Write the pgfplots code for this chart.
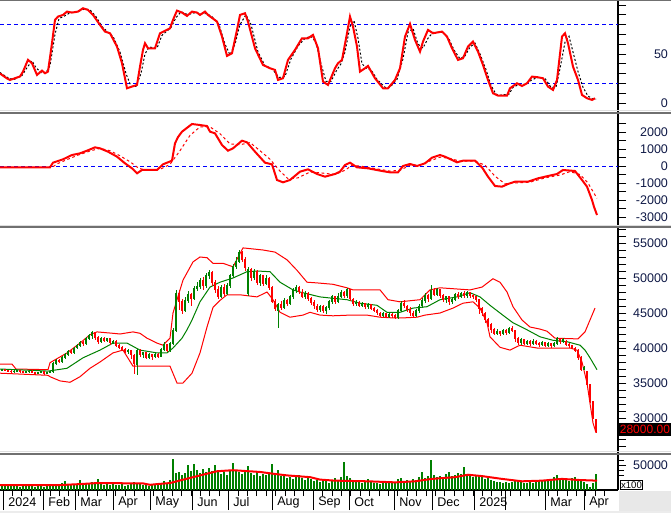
\documentclass[border=0pt]{standalone}
\usepackage{pgfplots}
\pgfplotsset{compat=1.18}
\usepackage{pgfplotstable}
\usepackage{fontspec}
\setmainfont{Liberation Sans}

\definecolor{cred}{RGB}{255,0,0}
\definecolor{cgreen}{RGB}{0,128,0}
\definecolor{cblue}{RGB}{0,0,255}
\definecolor{lab}{RGB}{15,25,70}
\definecolor{sep}{RGB}{112,112,112}
\definecolor{sepl}{RGB}{222,222,222}

% candles: x (pixel column), open, high, low, close
\pgfplotstableread{
x o h l c
2 36800 37000 36700 36900
14 36600 36800 36500 36700
17 36700 36900 36600 36800
26 36500 36700 36400 36600
29 36600 36800 36500 36700
38 36400 36600 36300 36500
41 36500 36700 36400 36600
47 36400 36600 36300 36500
50 36500 36700 36400 36600
53 36600 38000 36500 37800
56 37800 38400 37600 38200
62 38000 38800 37900 38600
65 38600 39300 38400 39100
68 39100 39700 38900 39500
74 39300 40200 39200 40000
77 40000 40600 39800 40400
80 40400 41000 40200 40800
86 40600 41600 40500 41400
89 41400 42000 41200 41800
92 41800 42500 41300 42200
101 40900 41600 40700 41400
107 41000 41500 40800 41300
113 40800 41200 40600 41000
128 39500 39800 39200 39600
137 37600 39800 36200 39600
143 39000 39500 38600 39300
149 38700 39300 38500 39100
155 38800 39300 38600 39100
161 38800 40000 38700 39800
164 39800 40800 39600 40500
170 39700 40800 39500 40600
173 40600 42800 40400 42500
176 42500 48300 42300 47800
185 45400 47300 45200 46800
188 46800 48200 46400 47600
194 47000 48800 46800 48500
197 48500 49500 48200 48800
200 48800 50000 48400 49700
206 48900 50700 48600 50300
209 50300 51200 49900 50800
221 47400 49000 47200 48600
227 47800 49300 47600 48900
230 48900 50600 48600 50300
233 50300 52000 50000 51600
236 51600 53000 51300 52400
239 52400 54000 52200 53600
248 47800 51600 47400 51200
254 50000 51300 49700 50900
260 49300 50600 48900 50300
266 49200 50500 49000 50000
278 45400 46500 42900 46200
284 45800 47100 45600 46800
290 46400 47600 46200 47300
293 47300 48600 47000 48200
296 48200 49000 47900 48700
305 47400 48100 47000 47800
320 45500 46200 45100 45900
326 45300 46000 44900 45800
329 45800 46900 45500 46600
332 46600 47600 46300 47300
338 46600 47800 46400 47400
341 47400 48300 47100 47900
347 47500 48600 47200 48300
356 46300 46900 46000 46500
362 46100 46600 45900 46400
368 45900 46400 45600 46200
383 44700 45200 44500 44900
389 44500 45100 44300 44800
398 44400 45600 44200 45400
401 45400 46700 45200 46300
416 44700 45600 44400 45300
419 45300 46300 45000 46000
422 46000 47100 45700 46800
425 46800 47800 46500 47500
431 47000 49000 46800 48200
437 47700 48600 47400 48300
446 46900 47500 46500 47300
452 46600 47200 46300 46900
455 46900 47900 46700 47600
461 47300 48000 47100 47800
467 47500 48100 47200 47900
497 42100 42700 41900 42400
503 42000 42700 41800 42500
509 42200 43000 42000 42800
521 40800 41400 40500 41200
527 40700 41100 40500 40900
533 40600 41300 40400 41000
542 40500 41000 40300 40800
548 40400 40800 40100 40600
554 40300 40900 40100 40700
557 40700 41600 40500 41300
563 40900 41400 40700 41200
584 36900 37400 36800 37200
}\upc

\pgfplotstableread{
x o h l c
5 36900 37000 36700 36800
8 36800 36900 36600 36700
11 36700 36800 36500 36600
20 36800 36900 36500 36600
23 36600 36700 36400 36500
32 36700 36800 36400 36500
35 36500 36600 36200 36400
44 36600 36700 36200 36400
59 38200 38400 37800 38000
71 39500 39700 39100 39300
83 40800 41000 40300 40600
95 42200 42300 41200 41500
98 41500 41700 40600 40900
104 41400 41600 40800 41000
110 41300 41400 40500 40800
116 41000 41100 40200 40400
119 40400 40600 39900 40100
122 40100 40300 39600 39800
125 39800 40000 39300 39500
131 39600 39700 38500 39000
134 39000 39100 36300 37800
140 39600 39800 38700 39000
146 39300 39400 38400 38700
152 39100 39200 38300 38800
158 39100 39300 38600 38800
167 40500 40600 39500 39700
179 47800 48300 45500 46600
182 46600 47000 44800 45400
191 47600 47900 46000 47000
203 49700 50200 48300 48900
212 50800 51000 48800 49300
215 49300 49700 47900 48300
218 48300 48800 47000 47400
224 48600 49100 47500 47800
242 53600 53800 52300 52700
245 52700 53000 51000 51500
251 51200 51500 49600 50000
257 50900 51100 49000 49300
263 50300 50500 48800 49200
269 50000 50200 48300 48600
272 48600 48800 46400 46700
275 46700 47000 45300 45600
281 46200 46700 45400 45800
287 46800 47000 46000 46400
299 48700 48900 47700 48000
302 48000 48400 47100 47400
308 47800 48000 46700 47100
311 47100 47300 46200 46500
314 46500 46800 45600 46000
317 46000 46300 45200 45500
323 45900 46100 45000 45300
335 47300 47500 46300 46600
344 47900 48200 47100 47500
350 48300 48400 46700 47000
353 47000 47200 46000 46300
359 46500 46700 45800 46100
365 46400 46500 45600 45900
371 46200 46300 45400 45700
374 45700 45900 45100 45400
377 45400 45600 44700 45000
380 45000 45200 44400 44700
386 44900 45000 44300 44500
392 44800 45000 44300 44600
395 44600 44800 44100 44400
404 46300 46900 45700 46000
407 46000 46200 45200 45500
410 45500 45800 44600 45000
413 45000 45300 44400 44700
428 47500 47700 46600 47000
434 48200 48600 47400 47700
440 48300 48500 47200 47500
443 47500 47700 46600 46900
449 47300 47500 46200 46600
458 47600 48000 47000 47300
464 47800 48100 47200 47500
470 47900 48000 47100 47500
473 47500 47700 47000 47300
476 47300 47500 46600 46900
479 46900 47000 44800 45600
482 45600 45800 44600 45000
485 45000 45200 43600 44100
488 44100 44300 43000 43400
491 43400 43600 42200 42600
494 42600 42800 41800 42100
500 42400 42500 41700 42000
506 42500 42700 41900 42200
512 42800 43100 42300 42500
515 42500 42600 40800 41300
518 41300 41600 40500 40800
524 41200 41300 40400 40700
530 40900 41100 40300 40600
536 41000 41100 40400 40700
539 40700 40900 40200 40500
545 40800 40900 40100 40400
551 40600 40700 40000 40300
560 41300 41500 40600 40900
566 40900 41200 40300 40500
569 40500 40700 40000 40300
572 40300 40500 39800 40000
575 40000 40200 39500 39700
578 39700 39900 38300 38700
581 38700 38800 36700 36900
587 36600 36700 34600 34800
590 34800 34900 32200 32300
593 32300 32400 29900 30000
596 29800 29900 27900 28000
}\dnc

% volume (x100 shares)
\pgfplotstableread{
x v
2 9000
5 11000
8 8000
11 10000
14 12000
17 9000
20 7000
23 10000
26 8000
29 11000
32 9000
35 6000
38 8000
41 10000
44 7000
47 9000
50 8000
53 12000
56 10000
59 9000
62 15000
65 18000
68 11000
71 10000
74 13000
77 12000
80 20000
83 14000
86 12000
89 15000
92 17000
95 14000
98 22000
101 12000
104 11000
107 13000
110 10000
113 12000
116 11000
119 10000
122 12000
125 9000
128 10000
131 13000
134 16000
137 14000
140 12000
143 10000
146 11000
149 9000
152 10000
155 12000
158 11000
161 14000
164 18000
167 13000
170 20000
173 62000
176 35000
179 36000
182 30000
185 34000
188 50000
191 38000
194 52000
197 40000
200 34000
203 42000
206 36000
209 45000
212 38000
215 50000
218 40000
221 33000
224 36000
227 30000
230 38000
233 55000
236 40000
239 36000
242 32000
245 38000
248 48000
251 34000
254 30000
257 36000
260 28000
263 32000
266 30000
269 34000
272 53000
275 34000
278 40000
281 28000
284 30000
287 24000
290 26000
293 22000
296 28000
299 30000
302 24000
305 20000
308 26000
311 22000
314 18000
317 20000
320 16000
323 18000
326 22000
329 15000
332 18000
335 24000
338 20000
341 26000
344 56000
347 28000
350 24000
353 20000
356 18000
359 16000
362 15000
365 18000
368 22000
371 16000
374 14000
377 15000
380 13000
383 16000
386 14000
389 15000
392 17000
395 16000
398 22000
401 24000
404 18000
407 20000
410 17000
413 22000
416 20000
419 26000
422 37000
425 24000
428 28000
431 61000
434 30000
437 26000
440 28000
443 24000
446 32000
449 36000
452 28000
455 30000
458 34000
461 32000
464 47000
467 30000
470 28000
473 26000
476 28000
479 30000
482 26000
485 22000
488 24000
491 20000
494 18000
497 16000
500 17000
503 15000
506 16000
509 14000
512 17000
515 20000
518 18000
521 16000
524 15000
527 14000
530 17000
533 15000
536 16000
539 18000
542 20000
545 18000
548 20000
551 22000
554 26000
557 30000
560 24000
563 22000
566 20000
569 18000
572 24000
575 26000
578 20000
581 22000
584 17000
587 12000
590 6000
593 14000
596 32000
}\vol

\pgfplotsset{
  panel/.style={
    scale only axis, width=463.5pt, xmin=0, xmax=618,
    axis y line*=right,
    y axis line style={black, line width=1pt},
    tick align=outside, major tick length=6pt, minor tick length=6pt,
    ytick style={black, line width=0.6pt},
    minor tick style={black, line width=0.6pt},
    scaled y ticks=false,
    yticklabel style={anchor=east, xshift=35pt, text=lab,
      font=\fontsize{9.4}{11}\selectfont},
    /pgf/number format/assume math mode=true,
    /pgf/number format/1000 sep={},
    clip mode=individual,
  },
  candle/.style={draw=none, mark=none, forget plot,
    error bars/.cd, y dir=both, y explicit, error mark=none,
    error bar style={draw=#1, solid, line width=0.75pt}},
  body/.style={draw=none, mark=none, forget plot,
    error bars/.cd, y dir=both, y explicit, error mark=none,
    error bar style={draw=#1, solid, line width=1.6pt}},
}

\begin{document}
\begin{tikzpicture}
\useasboundingbox (0,0) rectangle (503.25pt,-384.75pt);

% ---- stochastic ----
\begin{axis}[panel, axis x line=none, at={(0pt,-0.75pt)}, anchor=north west, height=83.25pt,
  ymin=-9.2, ymax=104, ytick={0,50}, minor ytick={10,20,30,40,60,70,80,90,100}]
\addplot[cblue, line width=0.75pt, dash pattern=on 3pt off 2.25pt] coordinates {(0,80) (618,80)};
\addplot[cblue, line width=0.75pt, dash pattern=on 3pt off 2.25pt] coordinates {(0,20) (618,20)};
\addplot[black, line width=0.75pt, dash pattern=on 1.5pt off 1.5pt] coordinates {
(0,31)(9,25)(14,24)(22,28)(27,36)(32,43)(36,36)(41,31)(46,31)(50,38)(55,70)(59,86)(65,89)(70,92)(77,93)(85,96)(90,95)(96,88)(102,78)(108,72)(113,68)(120,52)(126,30)(131,17)(136,17)(141,30)(145,50)(149,57)(157,56)(162,69)(171,77)(176,87)(181,93)(188,90)(194,92)(201,91)(207,91)(212,88)(219,80)(225,60)(230,49)(235,60)(240,80)(246,90)(251,80)(258,52)(265,38)(272,35)(279,26)(285,27)(291,45)(298,58)(305,66)(311,68)(316,62)(321,40)(326,22)(331,22)(337,34)(341,40)(345,52)(350,78)(354,84)(358,66)(362,40)(367,35)(371,34)(377,24)(385,16)(390,16)(397,24)(403,45)(408,72)(413,76)(418,60)(423,56)(428,66)(433,72)(443,72)(449,65)(454,54)(460,45)(465,48)(470,57)(475,61)(480,50)(486,34)(491,18)(496,9)(500,8)(509,9)(513,16)(519,19)(525,19)(531,23)(537,26)(545,25)(551,16)(556,16)(560,35)(565,62)(569,68)(573,52)(578,32)(583,16)(588,7)(593,4)(596,4)};
\addplot[cred, line width=1.5pt] coordinates {
(0,30)(7,25)(10,23.5)(20,27)(23,32)(28,44)(32,40.5)(37,28.6)(42,33)(45,30.3)(48,32)(52,61)(55,84.7)(58,88.1)(63,89.8)(67,93.2)(72,92.2)(78,93.2)(83,96.6)(88,94.9)(93,89.8)(100,79.6)(105,72.8)(110,71.1)(117,57.5)(122,40.5)(127,15)(132,16.7)(137,18.4)(140,37.1)(143,54.1)(145,60.9)(148,55.8)(155,55.8)(160,71.1)(170,76.2)(173,84.7)(177,94.2)(182,92.2)(187,88.8)(192,93.2)(197,92.2)(200,89.8)(205,93.2)(208,89.8)(217,83)(222,67.7)(227,48)(232,50.7)(237,74.5)(240,89.8)(245,91.5)(248,83)(255,55.8)(263,38.8)(270,35.4)(275,33.7)(278,23.5)(283,25.2)(288,43.9)(295,54.1)(302,66)(308,66)(313,69.4)(318,55.8)(323,21.8)(328,18.4)(335,35.4)(338,40.5)(342,43.9)(347,71.1)(350,88.1)(353,78)(357,57.5)(360,32)(365,35.4)(368,37.8)(375,25.2)(383,15)(388,15)(395,23.5)(400,35.4)(405,67.7)(410,80.6)(415,64.3)(420,52.4)(423,62.6)(428,74.5)(433,71.1)(442,72.8)(447,67.7)(452,55.8)(458,43.9)(463,45.6)(468,57.5)(473,62.6)(478,52.4)(483,38.8)(488,23.5)(493,9.9)(498,7.5)(507,7.5)(510,15)(517,20.1)(522,17.3)(527,20.1)(532,26.9)(538,26.2)(543,25.2)(548,16.7)(553,13.3)(557,23.5)(562,67.7)(565,71.1)(568,60.9)(573,37.1)(578,23.5)(582,8.2)(587,4.8)(592,3.1)(595,4.8)};
\end{axis}

% ---- MACD ----
\begin{axis}[panel, axis x line=none, at={(0pt,-84.75pt)}, anchor=north west, height=85.5pt,
  ymin=-3588, ymax=3118, ytick={-3000,-2000,...,2000}, minor ytick={-3500,-2500,...,2500}]
\addplot[cblue, line width=0.75pt, dash pattern=on 3pt off 2.25pt] coordinates {(0,0) (618,0)};
\addplot[cred, line width=0.75pt, dash pattern=on 2pt off 2pt] coordinates {
(0,-78)(52,-78)(58,150)(68,400)(78,640)(90,880)(100,1040)(110,900)(120,600)(130,250)(138,-100)(145,-250)(160,-200)(170,100)(180,900)(190,1800)(200,2300)(210,2300)(220,1900)(230,1300)(240,1250)(250,1380)(260,900)(270,400)(280,-300)(288,-750)(298,-700)(310,-350)(320,-400)(335,-500)(345,-250)(352,40)(360,0)(375,-150)(390,-300)(400,-250)(410,50)(420,50)(430,300)(440,520)(450,450)(460,280)(475,280)(485,50)(495,-600)(505,-1050)(515,-1000)(530,-950)(545,-700)(560,-530)(570,-330)(580,-500)(588,-1000)(594,-1600)(597,-1900)};
\addplot[cred, line width=1.5pt] coordinates {
(0,-78)(50,-78)(53,196)(63,392)(72,647)(80,745)(87,902)(95,1098)(100,1039)(108,843)(117,549)(125,157)(132,-137)(137,-431)(142,-235)(157,-235)(163,98)(172,314)(175,1333)(178,1700)(182,2019)(192,2470)(200,2411)(207,2352)(210,2019)(215,1921)(222,1235)(228,902)(233,1039)(242,1490)(247,1392)(255,843)(265,196)(272,98)(277,-823)(283,-960)(290,-823)(300,-333)(308,-196)(317,-470)(325,-627)(335,-470)(340,-333)(345,59)(350,196)(357,-78)(368,-137)(382,-294)(390,-372)(398,-372)(403,0)(410,118)(417,0)(425,157)(432,490)(440,647)(445,549)(457,216)(463,314)(475,314)(482,-78)(488,-627)(495,-1176)(502,-1215)(508,-1058)(515,-921)(528,-921)(538,-725)(548,-588)(557,-470)(563,-235)(575,-294)(582,-823)(587,-1215)(592,-2000)(594,-2400)(597,-2882)};
\end{axis}

% ---- price ----
\begin{axis}[panel, axis x line=none, at={(0pt,-171pt)}, anchor=north west, height=168.75pt,
  ymin=25000, ymax=57143, ytick={30000,35000,...,55000}, minor ytick={26000,27000,...,57000}]
\addplot[cred, line width=0.75pt] coordinates {
(0,37700)(12,37700)(16,37000)(48,36900)(50,37900)(67,39300)(80,40700)(90,41900)(97,42300)(113,42100)(120,42000)(133,42300)(140,42100)(147,41400)(157,40700)(163,40400)(170,41400)(173,45000)(183,49700)(193,52300)(200,53000)(207,52900)(213,52100)(223,52100)(233,51600)(243,54300)(263,54000)(275,53700)(287,52600)(297,51100)(307,49400)(317,49300)(333,49100)(347,48600)(353,48300)(380,48300)(388,46900)(400,46600)(420,46900)(430,48300)(440,48600)(470,48300)(482,48700)(493,49900)(500,49400)(507,48000)(513,45900)(522,44000)(530,43000)(540,42700)(547,42400)(555,41400)(578,41300)(585,42300)(590,44000)(595,45700)};
\addplot[cred, line width=0.75pt] coordinates {
(0,36400)(48,36100)(50,35900)(60,35300)(70,35100)(80,35900)(90,37100)(100,38000)(113,39300)(123,39700)(133,37400)(170,37400)(177,35000)(183,35000)(192,36400)(200,39300)(207,43000)(213,45800)(220,46800)(227,47600)(240,47600)(257,47300)(267,48000)(273,46900)(280,45100)(290,44400)(303,44700)(310,45100)(320,44700)(333,44600)(350,44700)(367,44700)(380,44400)(393,44300)(403,44300)(417,44400)(425,44700)(440,45000)(453,45700)(463,46400)(473,46600)(480,45700)(487,43600)(490,41600)(500,40100)(510,39700)(520,40400)(537,40000)(553,40000)(570,40000)(577,39700)(582,38000)(587,35000)(590,32100)(593,29300)(596,27900)};
\addplot[cgreen, line width=0.75pt] coordinates {
(0,37000)(48,36700)(67,37100)(83,38600)(100,39700)(113,40700)(127,40700)(140,39700)(157,39300)(167,39300)(173,40000)(182,41400)(187,42600)(192,44000)(200,46600)(210,48700)(220,49400)(233,50000)(247,50900)(257,51000)(270,50900)(280,49400)(293,48300)(300,48000)(320,47300)(333,47100)(347,46900)(360,46400)(377,46100)(387,45100)(400,45100)(413,45700)(427,45900)(440,46900)(457,47300)(470,47900)(480,47300)(490,46100)(500,45000)(513,43600)(527,42600)(540,41600)(553,41100)(567,40900)(580,40400)(585,39700)(590,38600)(597,36900)};
\addplot[candle=cgreen] table[x=x, y expr={(\thisrow{h}+\thisrow{l})/2}, y error expr={(\thisrow{h}-\thisrow{l})/2}] {\upc};
\addplot[body=cgreen] table[x=x, y expr={(\thisrow{o}+\thisrow{c})/2}, y error expr={abs(\thisrow{c}-\thisrow{o})/2+70}] {\upc};
\addplot[candle=cred] table[x=x, y expr={(\thisrow{h}+\thisrow{l})/2}, y error expr={(\thisrow{h}-\thisrow{l})/2}] {\dnc};
\addplot[body=cred] table[x=x, y expr={(\thisrow{o}+\thisrow{c})/2}, y error expr={abs(\thisrow{c}-\thisrow{o})/2+70}] {\dnc};
\node[fill=black, text=cred, anchor=east, inner xsep=0.6pt, inner ysep=1.8pt,
  font=\fontsize{9}{11}\selectfont] at (axis cs:671,28350) {28000.00};
\end{axis}

% ---- volume ----
\begin{axis}[panel, at={(0pt,-340.5pt)}, anchor=north west, height=27pt,
  ymin=0, ymax=72000, ytick={50000}, minor ytick={30000,40000,60000},
  axis x line*=bottom, x axis line style={black, line width=1.5pt},
  xtick={3,43,75,113,150,192,228,272,313,349,394,432,474,505,545,584},
  xticklabels={2024,Feb,Mar,Apr,May,Jun,Jul,Aug,Sep,Oct,Nov,Dec,2025,,Mar,Apr},
  extra x ticks={3,43,75,113,150,192,228,272,313,349,394,432,474,505,545,584},
  extra x tick labels={},
  extra x tick style={major tick length=15pt},
  minor xtick={3,12.4,...,600}, minor tick length=4.5pt,
  xtick style={black, line width=0.75pt},
  xticklabel style={anchor=west, xshift=0.5pt, yshift=-3pt, text=black,
      font=\fontsize{9.4}{11}\selectfont}]
\addplot[ycomb, cgreen, line width=1.5pt] table[x=x, y=v] {\vol};
\addplot[cred, line width=1.5pt] coordinates {
(0,9700)(58,9700)(80,11800)(97,13900)(143,13200)(150,10400)(157,11800)(170,13900)(182,20100)(200,29200)(217,37500)(233,39600)(260,36100)(273,32600)(287,29200)(310,25700)(320,20800)(335,18700)(368,17400)(395,15300)(415,17400)(432,22200)(455,25700)(468,30500)(482,27800)(502,22200)(522,17400)(542,18700)(562,22200)(578,20100)(597,18700)};
\node[draw=black, inner sep=0.6pt, anchor=south west, font=\fontsize{7.2}{8}\selectfont]
  at (axis cs:620,1200) {x100};
\end{axis}

% panel separators and frame
\fill[sep] (0,0) rectangle (503.25pt,-1.1pt);
\foreach \yy in {84.4,170.6,340.5} {
  \draw[sepl, line width=0.8pt] (0,-\yy pt+1.6pt) -- ++(503.25pt,0);
  \draw[sep, line width=1.5pt] (0,-\yy pt) -- ++(503.25pt,0);
}
\fill[gray!18] (464pt,-368.5pt) rectangle (503.25pt,-384.75pt);
\fill[gray!15] (0,-383.4pt) rectangle (503.25pt,-384.75pt);
\end{tikzpicture}
\end{document}
